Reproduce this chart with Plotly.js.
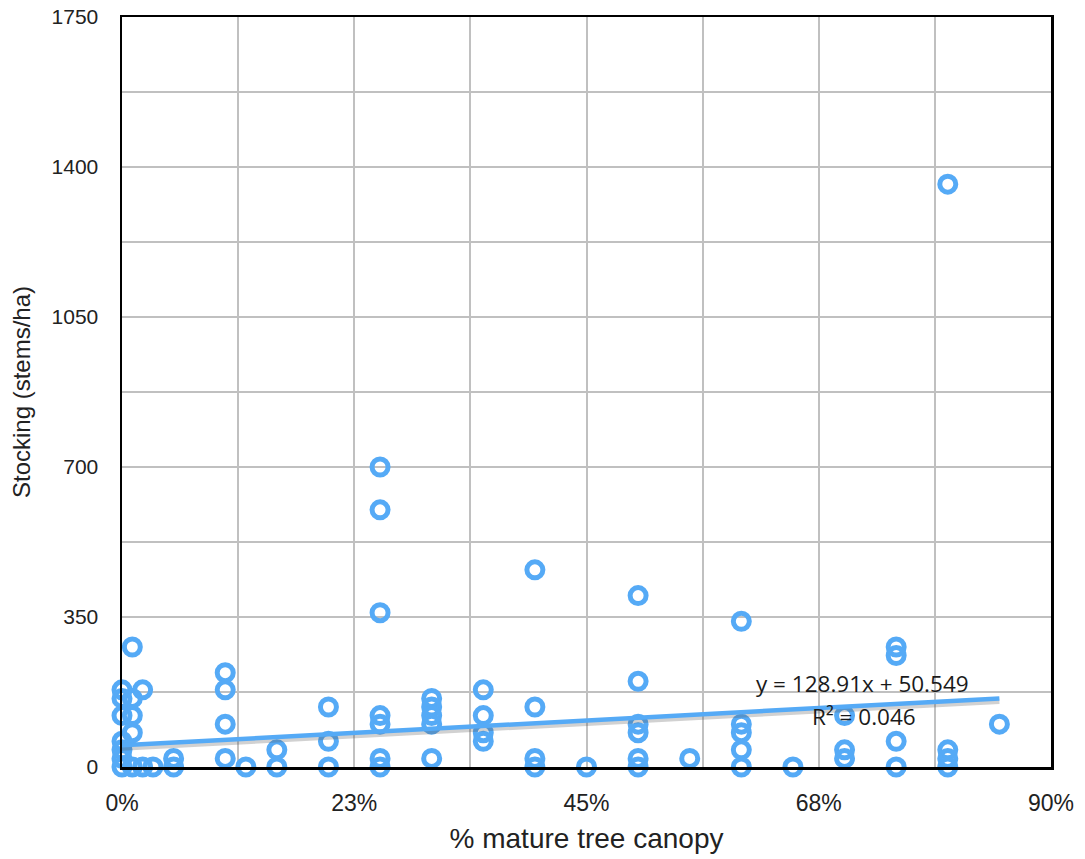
<!DOCTYPE html>
<html>
<head>
<meta charset="utf-8">
<script src="https://cdn.plot.ly/plotly-3.0.1.min.js"></script>
<style>
  html, body { margin: 0; padding: 0; background: #ffffff; }
  #chart { width: 1085px; height: 859px; }
</style>
</head>
<body>
<div id="chart"></div>
<script>
// % mature tree canopy (fraction) and stocking (stems/ha)
const canopy = [
  0, 0, 0, 0, 0, 0, 0,
  0.01, 0.01, 0.01, 0.01, 0.01,
  0.02, 0.02,
  0.03,
  0.05, 0.05,
  0.10, 0.10, 0.10, 0.10,
  0.12,
  0.15, 0.15,
  0.20, 0.20, 0.20,
  0.25, 0.25, 0.25, 0.25, 0.25, 0.25, 0.25,
  0.30, 0.30, 0.30, 0.30, 0.30,
  0.35, 0.35, 0.35, 0.35,
  0.40, 0.40, 0.40, 0.40,
  0.45,
  0.50, 0.50, 0.50, 0.50, 0.50, 0.50,
  0.55,
  0.60, 0.60, 0.60, 0.60, 0.60,
  0.65,
  0.70, 0.70, 0.70,
  0.75, 0.75, 0.75, 0.75,
  0.80, 0.80, 0.80, 0.80,
  0.85
];
const stocking = [
  180, 160, 120, 60, 40, 20, 0,
  280, 160, 120, 80, 0,
  180, 0,
  0,
  20, 0,
  220, 180, 100, 20,
  0,
  40, 0,
  140, 60, 0,
  700, 600, 360, 120, 100, 20, 0,
  160, 140, 120, 100, 20,
  180, 120, 80, 60,
  460, 140, 20, 0,
  0,
  400, 200, 100, 80, 20, 0,
  20,
  340, 100, 80, 40, 0,
  0,
  120, 40, 20,
  280, 260, 60, 0,
  1360, 40, 20, 0,
  100
];

// Linear trendline reported on the chart
const trendSlope = 128.91;
const trendIntercept = 50.549;
const trendX = [0, 0.85];
const trendY = trendX.map(v => trendSlope * v + trendIntercept);

const xTickVals = [0, 0.225, 0.45, 0.675, 0.9];
const xTickText = ["0%", "23%", "45%", "68%", "90%"];
const yTickVals = [0, 350, 700, 1050, 1400, 1750];

const blue = "#55aaf6";
const gridCol = "#c0c0c0";
const fontFam = "'Liberation Sans', Arial, Helvetica, sans-serif";
const noteFam = "'Open Sans', 'Noto Sans', sans-serif";

// small visual offset for the trendline drop shadow (about 3 px)
const shadowDy = 3 * 1750 / 750;

const traces = [
  {
    x: canopy, y: stocking,
    type: "scatter", mode: "markers",
    cliponaxis: false,
    marker: { symbol: "circle-open", size: 16, color: blue, line: { width: 5, color: blue } },
    hoverinfo: "x+y", showlegend: false
  },
  {
    x: trendX, y: trendY.map(v => v - shadowDy),
    type: "scatter", mode: "lines",
    line: { color: "rgba(90,90,90,0.28)", width: 5 },
    hoverinfo: "skip", showlegend: false
  },
  {
    x: trendX, y: trendY,
    type: "scatter", mode: "lines",
    line: { color: blue, width: 4.5 },
    hoverinfo: "skip", showlegend: false
  }
];

const layout = {
  width: 1085, height: 859,
  paper_bgcolor: "#ffffff", plot_bgcolor: "#ffffff",
  margin: { l: 122, r: 34, t: 17, b: 92 },
  font: { family: fontFam, color: "#222222", size: 20 },
  showlegend: false,
  xaxis: {
    range: [0, 0.9],
    tickvals: xTickVals, ticktext: xTickText,
    showgrid: true, gridcolor: gridCol, gridwidth: 2,
    minor: { dtick: 0.1125, tick0: 0, showgrid: true, gridcolor: gridCol, gridwidth: 2, ticks: "" },
    showline: true, linecolor: "#000000", linewidth: 2.5, mirror: true,
    zeroline: false, ticks: "",
    ticklabelstandoff: 14,
    tickfont: { family: fontFam, size: 23, color: "#222222" },
    title: { text: "% mature tree canopy", font: { family: fontFam, size: 28, color: "#222222" }, standoff: 14 },
    fixedrange: true
  },
  yaxis: {
    range: [0, 1750],
    tickvals: yTickVals,
    showgrid: true, gridcolor: gridCol, gridwidth: 2,
    minor: { dtick: 175, tick0: 0, showgrid: true, gridcolor: gridCol, gridwidth: 2, ticks: "" },
    showline: true, linecolor: "#000000", linewidth: 2.5, mirror: true,
    zeroline: false, ticks: "",
    ticklabelstandoff: 17,
    tickfont: { family: fontFam, size: 21, color: "#222222" },
    title: { text: "Stocking (stems/ha)", font: { family: fontFam, size: 24, color: "#222222" }, standoff: 14 },
    fixedrange: true
  },
  annotations: [
    {
      x: 0.717, y: 194, xref: "x", yref: "y",
      text: "y = 128.91x + 50.549", showarrow: false,
      font: { family: noteFam, size: 22.5, color: "#1a1a1a" }
    },
    {
      x: 0.719, y: 119, xref: "x", yref: "y",
      text: "R² = 0.046", showarrow: false,
      font: { family: noteFam, size: 22.5, color: "#1a1a1a" }
    }
  ]
};

Plotly.newPlot("chart", traces, layout, { displayModeBar: false, staticPlot: true });
</script>
</body>
</html>
